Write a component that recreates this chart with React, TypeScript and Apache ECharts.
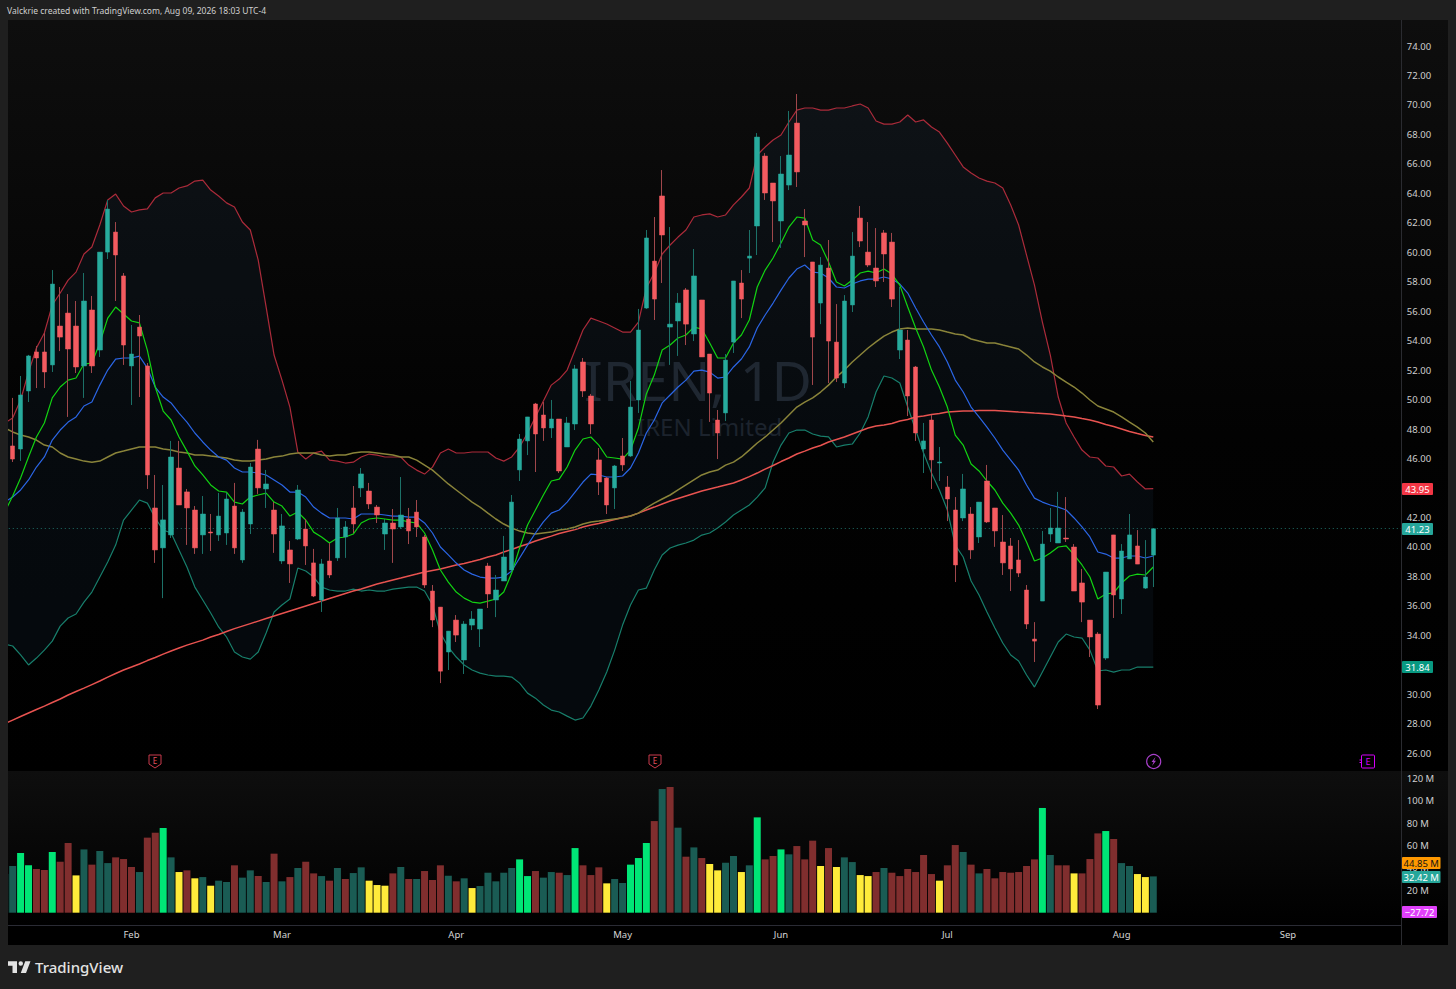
import React, { useEffect, useRef } from "react";
import * as echarts from "echarts";

const tvLogo = "M14 6H2v6h6v9h6V6Zm12 15h-7l6-15h7l-6 15Zm-7-9a3 3 0 1 0 0-6 3 3 0 0 0 0 6Z";
echarts.graphic.registerShape("tvlogo", echarts.graphic.extendPath(tvLogo, {}));

const opens = [
46.85,46.64,50.58,53.23,53.23,52.35,54.99,55.87,54.99,52.28,
56.08,53.36,60.01,61.37,58.39,52.28,54.92,52.28,42.64,39.93,
40.81,45.35,43.73,42.50,40.81,41.01,40.81,40.94,42.77,39.11,
41.55,46.64,43.93,42.50,39.04,39.79,40.53,41.21,38.91,36.39,
39.04,39.25,40.67,42.64,44.00,43.79,42.70,40.87,41.62,41.35,
41.89,42.36,40.67,37.00,35.91,32.86,35.03,32.32,34.69,34.42,
38.70,36.39,37.68,38.43,45.22,47.19,49.70,48.95,48.07,48.68,
46.78,48.34,52.55,50.24,45.90,44.67,44.00,46.17,46.17,49.97,
56.21,59.40,63.82,54.92,55.33,57.44,54.45,56.76,53.09,48.61,
49.09,53.90,57.91,59.60,61.78,66.53,64.70,62.12,64.56,68.77,
62.12,59.34,56.55,58.93,53.90,51.12,56.42,62.32,60.01,58.93,
61.31,60.69,53.36,54.04,52.21,46.64,48.61,45.69,44.06,42.50,
41.96,42.23,40.67,44.47,42.64,40.33,40.06,39.11,37.07,33.74,
36.32,40.87,40.26,40.60,39.99,37.55,35.03,34.08,32.45,40.81,
36.46,39.18,40.06,37.20,39.44];
const closes = [
45.96,50.31,52.96,52.82,51.87,57.84,54.24,53.43,52.21,56.69,
52.28,60.01,62.93,59.81,53.70,53.09,54.31,44.88,39.79,41.83,
46.10,42.84,42.64,39.93,42.23,40.94,42.09,43.25,39.93,42.36,
45.42,44.00,44.27,40.87,41.42,38.84,43.86,40.06,36.66,38.84,
38.09,41.96,41.35,41.55,44.95,42.91,42.16,41.62,41.21,42.16,
41.08,41.35,37.41,35.03,31.56,34.28,34.01,34.76,35.10,35.78,
36.80,37.07,39.31,43.04,47.32,48.82,47.66,48.07,48.68,45.15,
48.41,52.08,50.58,48.34,44.40,42.84,45.49,45.56,49.49,54.72,
60.97,56.82,61.17,55.12,56.55,55.12,58.39,52.89,50.44,47.73,
52.68,58.05,56.82,59.74,67.82,64.02,63.48,65.31,66.60,65.45,
61.85,54.24,59.13,53.97,51.46,56.69,59.74,60.76,59.13,58.05,
59.88,56.82,54.72,50.24,47.73,47.19,45.90,45.76,43.25,38.77,
43.93,39.79,43.04,41.69,41.08,38.91,38.50,38.22,34.76,33.60,
40.19,41.28,41.28,40.53,37.00,36.25,33.88,29.26,38.29,36.73,
39.72,40.81,38.83,37.95,41.23];
const lows = [
45.76,45.83,49.83,50.78,50.78,51.87,53.29,48.82,51.80,50.11,
51.80,52.89,59.54,56.69,52.35,49.63,50.17,43.93,38.91,36.52,
40.60,42.84,40.13,39.52,39.52,39.72,40.40,40.13,39.52,38.91,
40.87,43.59,42.64,39.59,38.84,37.55,40.46,38.77,36.59,35.58,
37.88,39.04,39.25,40.94,43.38,42.57,41.62,39.79,38.91,41.21,
40.19,40.67,37.21,34.55,30.75,31.64,33.54,31.37,34.35,33.20,
35.85,35.23,37.68,38.43,44.47,46.23,45.08,47.19,47.39,45.01,
46.78,47.93,50.17,47.66,43.52,42.23,42.57,45.15,46.10,49.09,
56.15,55.40,57.91,52.35,52.96,53.70,53.97,52.89,48.48,45.96,
48.54,53.16,55.53,58.59,59.81,63.55,60.69,60.29,64.22,64.43,
59.67,50.99,55.12,51.12,51.19,50.78,55.94,60.35,58.99,57.64,
57.98,56.28,52.75,48.88,47.19,45.01,43.93,44.47,41.75,37.61,
41.75,39.18,40.26,41.62,40.00,38.09,37.00,37.95,34.42,32.18,
36.32,40.33,40.26,40.33,37.00,34.89,32.52,28.99,32.32,35.17,
35.44,39.18,38.83,37.14,37.27];
const highs = [
50.11,51.60,53.03,53.64,54.51,58.79,57.64,57.16,56.69,58.59,
57.03,60.01,63.55,62.05,58.59,55.06,55.74,52.48,44.88,44.20,
47.19,47.19,43.93,42.77,43.45,42.23,43.66,43.66,44.34,42.57,
45.69,47.26,45.22,43.04,42.23,40.40,44.20,41.89,39.86,39.18,
40.26,42.64,41.75,44.13,45.35,44.34,42.84,41.89,42.57,44.74,
42.64,43.18,40.81,37.41,35.91,34.28,35.37,34.96,35.64,35.78,
38.91,38.09,40.74,43.52,47.66,48.82,49.77,49.83,49.97,48.68,
48.82,52.35,52.82,50.38,46.71,44.74,45.56,47.39,51.26,56.15,
61.51,62.39,65.58,61.71,57.23,57.57,60.22,56.76,53.09,49.29,
53.09,58.05,58.79,61.51,68.09,66.73,64.70,66.53,69.59,70.74,
62.93,59.34,59.67,60.83,56.48,57.09,61.37,63.14,62.05,61.64,
61.51,61.31,57.64,54.72,52.28,48.41,48.95,46.78,44.81,43.38,
44.95,42.70,43.04,45.56,42.64,42.16,40.60,40.46,37.41,34.89,
41.08,42.64,43.73,43.38,40.19,38.50,35.03,34.21,38.29,40.81,
40.19,42.23,41.14,40.46,41.23];

// Indicator series start one bar earlier than the candles (that bar is cut by the left edge).
const bbUpper = [48.41,
48.75,49.97,51.86,53.50,54.52,56.42,57.23,58.11,58.65,59.88,
60.35,61.85,63.55,63.95,63.14,62.73,62.87,62.94,63.69,64.02,
64.02,64.36,64.50,64.83,64.90,64.22,63.82,63.35,63.07,62.05,
61.51,59.47,56.28,53.02,51.32,49.49,46.43,45.96,46.37,46.50,
45.89,45.82,45.69,45.75,46.10,46.30,46.23,46.10,46.10,46.10,
45.55,45.21,44.94,45.41,46.37,46.64,46.37,46.37,46.44,46.44,
46.44,46.03,45.82,46.10,46.78,47.73,48.82,49.90,50.98,51.39,
52.00,53.36,54.72,55.53,55.33,55.13,54.86,54.58,54.58,55.26,
57.57,58.59,59.88,60.49,61.03,61.51,62.39,62.53,62.60,62.39,
62.53,63.21,63.75,64.36,66.60,67.14,67.62,67.96,68.84,69.65,
69.79,69.79,69.65,69.65,69.79,69.79,69.93,70.06,69.79,68.91,
68.70,68.70,68.84,69.32,68.84,68.98,68.50,68.16,67.41,66.60,
65.79,65.38,65.04,64.83,64.70,64.36,63.21,61.85,59.81,57.77,
55.26,53.02,50.17,48.41,47.46,46.57,46.10,46.03,45.49,45.42,
44.81,44.94,44.40,43.93,43.95];
const bbLower = [33.40,
33.27,32.66,31.98,32.45,32.99,33.60,34.62,35.17,35.44,36.25,
36.93,37.95,38.97,40.12,41.82,42.50,43.18,42.97,41.96,41.14,
40.94,39.78,38.63,37.27,36.39,35.51,34.56,33.88,32.86,32.52,
32.38,32.86,34.15,35.58,36.05,36.46,38.56,38.36,37.95,37.27,
37.07,37.00,37.00,37.13,37.00,37.07,37.00,37.00,37.13,37.20,
37.27,37.27,37.00,36.05,34.15,33.20,32.52,31.98,31.64,31.43,
31.30,31.23,31.23,31.16,30.75,30.07,29.73,29.26,28.92,28.79,
28.51,28.24,28.38,29.19,30.28,31.50,32.99,34.69,36.05,37.07,
37.20,38.43,39.45,39.92,40.12,40.26,40.46,40.80,40.94,41.28,
41.69,42.16,42.50,42.84,43.38,44.00,45.76,46.91,47.73,47.93,
47.93,47.66,47.52,47.46,46.78,46.91,46.98,47.73,48.82,50.51,
51.60,51.46,51.12,49.49,47.93,46.37,45.01,43.86,42.50,40.12,
39.31,37.68,36.73,35.58,34.49,33.47,32.66,32.25,31.30,30.48,
31.50,32.52,33.54,34.08,33.88,33.81,32.99,31.57,31.64,31.50,
31.64,31.64,31.84,31.84,31.84];
const bbBasis = [43.04,
43.38,43.86,44.54,45.42,46.10,47.25,47.93,48.47,48.82,49.56,
49.83,50.98,52.00,52.75,52.82,52.82,52.95,52.14,50.85,50.17,
49.77,49.08,48.47,47.73,47.12,46.57,46.10,45.89,45.35,45.08,
45.08,45.01,44.88,44.54,44.20,43.72,43.72,43.38,42.70,42.29,
41.96,41.96,41.96,41.89,42.23,42.23,42.23,42.16,42.09,42.09,
42.02,42.02,41.62,40.94,39.99,39.45,38.90,38.43,38.15,37.95,
37.88,37.88,37.95,38.36,39.24,40.12,40.94,41.69,42.29,42.50,
43.04,43.72,44.40,44.94,44.88,44.74,44.74,44.81,45.35,46.37,
47.73,48.61,49.77,50.31,50.85,51.32,51.93,52.00,51.86,51.46,
51.53,52.21,52.75,53.57,54.86,55.74,56.55,57.43,58.25,58.86,
59.13,58.65,58.59,58.25,57.64,57.57,57.84,58.05,58.18,58.18,
58.32,58.18,57.84,57.23,56.21,55.26,54.38,53.57,52.55,51.32,
50.51,49.49,48.82,48.13,47.39,46.57,45.89,45.21,44.20,43.31,
43.04,42.84,42.70,42.50,41.96,41.35,40.67,39.65,39.51,39.24,
39.24,39.38,39.38,39.24,39.38];
const emaFast = [42.36,
43.45,44.67,46.10,47.46,48.41,50.11,50.85,51.32,51.46,52.41,
52.48,53.84,55.53,56.28,55.81,55.33,55.20,53.36,50.85,49.22,
48.61,47.46,46.50,45.49,44.88,44.20,43.79,43.72,43.04,42.91,
43.38,43.52,43.65,43.04,42.77,42.09,42.36,41.82,41.00,40.67,
40.26,40.60,40.67,40.87,41.62,41.89,41.96,41.89,41.82,41.82,
41.69,41.62,40.94,39.78,38.43,37.61,36.93,36.52,36.25,36.18,
36.32,36.46,36.93,38.22,39.92,41.48,42.50,43.52,44.47,44.60,
45.42,46.57,47.32,47.46,46.91,46.10,46.03,45.96,46.57,48.07,
50.38,51.66,53.36,53.70,54.18,54.38,54.92,54.79,53.84,52.82,
52.82,53.84,54.38,55.40,57.64,58.79,59.61,60.63,61.71,62.39,
62.32,60.83,60.49,59.34,57.98,57.71,58.11,58.59,58.72,58.59,
58.86,58.52,57.77,56.28,54.86,53.57,52.00,50.85,49.49,47.59,
46.91,45.62,45.15,44.47,43.86,42.97,42.29,41.48,40.33,39.04,
39.24,39.58,39.99,40.06,39.45,38.77,37.95,36.46,36.80,36.87,
37.55,38.02,38.15,38.09,38.63];
const sma50 = [48.07,
47.80,47.59,47.46,47.25,46.91,46.78,46.37,46.10,45.96,45.82,
45.75,45.82,46.10,46.37,46.50,46.64,46.78,46.78,46.78,46.64,
46.57,46.44,46.37,46.23,46.23,46.16,46.10,46.03,45.89,45.82,
45.82,45.89,45.96,46.10,46.16,46.30,46.37,46.37,46.37,46.23,
46.16,46.23,46.23,46.37,46.44,46.44,46.37,46.30,46.23,46.10,
46.10,45.89,45.55,45.21,44.74,44.27,43.86,43.45,43.04,42.70,
42.29,41.89,41.55,41.28,41.07,40.94,40.87,40.94,41.00,41.14,
41.21,41.35,41.55,41.69,41.75,41.82,41.89,41.96,42.09,42.29,
42.64,42.97,43.25,43.52,43.86,44.20,44.54,44.88,45.08,45.21,
45.55,45.75,46.10,46.57,47.05,47.46,47.93,48.41,48.95,49.49,
49.83,50.11,50.51,50.98,51.53,52.00,52.55,53.02,53.50,53.91,
54.31,54.58,54.79,54.86,54.79,54.79,54.79,54.72,54.58,54.45,
54.38,54.11,53.97,53.84,53.84,53.70,53.57,53.43,53.02,52.55,
52.21,51.93,51.53,51.19,50.85,50.44,49.97,49.56,49.36,49.15,
48.82,48.47,48.13,47.73,47.12];
const sma200 = [28.00,
28.24,28.48,28.72,28.96,29.19,29.43,29.67,29.94,30.18,30.41,
30.65,30.89,31.16,31.40,31.64,31.84,32.05,32.28,32.49,32.72,
32.93,33.13,33.33,33.50,33.67,33.88,34.05,34.25,34.45,34.62,
34.79,34.96,35.13,35.30,35.47,35.64,35.81,35.98,36.15,36.32,
36.49,36.66,36.83,37.00,37.14,37.31,37.48,37.61,37.75,37.88,
38.02,38.15,38.29,38.39,38.49,38.63,38.77,38.87,39.00,39.14,
39.31,39.45,39.65,39.82,40.02,40.19,40.40,40.57,40.73,40.90,
41.04,41.17,41.35,41.48,41.58,41.72,41.85,41.99,42.09,42.29,
42.50,42.70,42.91,43.11,43.28,43.45,43.62,43.79,43.93,44.06,
44.20,44.33,44.54,44.77,45.01,45.28,45.52,45.79,46.03,46.30,
46.50,46.71,46.88,47.12,47.29,47.46,47.66,47.86,48.07,48.20,
48.27,48.37,48.54,48.64,48.82,48.88,48.98,49.05,49.15,49.19,
49.22,49.22,49.25,49.25,49.25,49.22,49.19,49.15,49.12,49.08,
49.05,49.02,48.95,48.88,48.82,48.71,48.61,48.47,48.30,48.17,
48.00,47.83,47.69,47.56,47.46];

const volumes = [34.5,
41.7,53.3,42.3,39.0,38.1,54.2,45.5,62.2,33.3,56.5,
42.9,55.1,44.3,49.4,47.9,40.8,36.3,67.0,71.4,75.6,
49.4,36.3,37.8,30.7,31.8,24.1,28.6,27.4,42.3,31.3,
37.8,32.7,27.4,52.7,28.0,31.8,39.9,45.5,35.1,32.7,
28.6,39.9,30.1,35.4,40.5,28.6,24.7,24.1,35.1,40.8,
30.1,30.1,37.2,29.2,42.3,33.0,28.0,30.7,22.0,23.8,
35.7,28.0,35.7,39.9,47.6,32.7,37.2,31.3,36.3,35.7,
33.6,57.7,42.3,33.6,40.5,26.2,30.1,26.5,42.9,48.8,
62.2,81.8,110.4,112.2,75.9,50.0,58.3,48.8,43.5,37.8,
44.6,50.6,36.3,42.3,85.1,47.6,50.6,56.5,52.1,59.5,
47.6,64.3,41.7,57.7,40.8,49.4,45.2,33.6,32.7,36.3,
39.9,35.7,32.7,39.0,36.3,51.5,34.5,28.6,42.3,60.4,
54.2,42.9,35.1,39.0,30.7,36.3,35.7,36.3,41.7,47.6,
93.5,51.5,42.3,42.3,35.1,35.1,47.9,70.8,72.9,65.8,
44.3,41.7,34.5,31.8,32.42];
// t = dark teal, r = dark red, g = bright green, y = yellow
const volumeKindRows = [
  "t",
  "tggrrgrryt","rttrrrtrrg","tyrytyttrt","trtrtrtrrt","rtrttyyyrt",
  "rtrrrtrtyt","ttttggrttr","tgrrryttgg","grtrtrtryy","ttytgrrgtr",
  "rryryttyyr","trrrrrryrr","trtrrrrrrr","gtrryrrrgr","ttyyt",
];

const monthTicks: [number, string][] = [
  [16, "Feb"], [35, "Mar"], [57, "Apr"], [78, "May"], [98, "Jun"], [119, "Jul"], [141, "Aug"], [162, "Sep"]
];

const CATEGORY_COUNT = 177;
const timeLabels: string[] = Array.from({ length: CATEGORY_COUNT }, () => "");
monthTicks.forEach(([k, m]) => { timeLabels[k] = m; });

const TEAL = "#27ab9d";
const RED = "#f45b60";
const FONT = '"Noto Sans"';

export default function App() {
  const ref = useRef<HTMLDivElement>(null);
  useEffect(() => {
    document.body.style.margin = "0";
    document.body.style.background = "#1f1f1f";
    const chart = echarts.init(ref.current!, undefined, { renderer: "svg" });
    const kinds = volumeKindRows.join("");
    const kindColor: Record<string, string> = { t: "#1a5c54", r: "#802e2e", g: "#00e676", y: "#ffeb3b" };

    const wicks: any[] = [["-", "-", "-", "-"]];
    const bodies: any[] = [["-", "-", "-", "-"]];
    opens.forEach((o, i) => {
      const c = closes[i];
      wicks.push([o, c, lows[i], highs[i]]);
      bodies.push([o, c, Math.min(o, c), Math.max(o, c)]);
    });
    const bandGap = bbUpper.map((u, i) => +(u - bbLower[i]).toFixed(2));
    const line = (name: string, data: number[], color: string, width: number) => ({
      name, type: "line", data, xAxisIndex: 0, yAxisIndex: 0, showSymbol: false, symbol: "none", silent: true, z: 3,
      lineStyle: { color, width },
    });

    const tag = (y: number, w: number, fill: string, text: string, textFill = "#ffffff") => [
      { type: "rect", z: 50, shape: { x: 1402, y, width: w, height: 12, r: 1 }, style: { fill } },
      { type: "text", z: 51, x: 1402 + w / 2, y: y + 6, style: { text, fill: textFill, font: `9.5px ${FONT}`, align: "center", verticalAlign: "middle", textAlign: "center", textVerticalAlign: "middle" } },
    ];
    const earnings = (cx: number) => [
      { type: "polygon", z: 20, shape: { points: [[cx - 6, 755], [cx + 6, 755], [cx + 6, 764], [cx, 768], [cx - 6, 764]] }, style: { fill: "none", stroke: "#c93a4c", lineWidth: 1 } },
      { type: "text", z: 21, x: cx, y: 760.5, style: { text: "E", fill: "#e0505f", font: `8px ${FONT}`, align: "center", verticalAlign: "middle", textAlign: "center", textVerticalAlign: "middle" } },
    ];

    chart.setOption({
      animation: false,
      backgroundColor: "#1f1f1f",
      tooltip: { show: false },
      grid: [
        { left: 0.79, top: 16.54, width: 1402, height: 766 },
        { left: 0.79, top: 771, width: 1402, height: 141.7 },
      ],
      xAxis: [
        { type: "category", gridIndex: 0, data: timeLabels, boundaryGap: true, axisLine: { show: false }, axisTick: { show: false }, axisLabel: { show: false }, splitLine: { show: false } },
        { type: "category", gridIndex: 1, data: timeLabels, boundaryGap: true, axisLine: { show: false }, axisTick: { show: false }, splitLine: { show: false },
          axisLabel: { show: true, interval: 0, color: "#d6d6d6", fontFamily: FONT, fontSize: 9.5, margin: 17, hideOverlap: false } },
      ],
      yAxis: [
        { type: "value", gridIndex: 0, position: "right", min: 24, max: 76, interval: 2, axisLine: { show: false }, axisTick: { show: false }, splitLine: { show: false },
          axisLabel: { color: "#cfcfcf", fontFamily: FONT, fontSize: 9.5, margin: 4, align: "left",
            formatter: (v: number) => (v === 24 || v === 76 ? "" : v.toFixed(2)) } },
        { type: "value", gridIndex: 1, position: "right", min: 0, max: 126.5, interval: 20, axisLine: { show: false }, axisTick: { show: false }, splitLine: { show: false },
          axisLabel: { color: "#cfcfcf", fontFamily: FONT, fontSize: 9.5, margin: 4, align: "left",
            formatter: (v: number) => (v > 0 && v % 20 === 0 ? `${v} M` : "") } },
      ],
      series: [
        { name: "bbBase", type: "line", stack: "bb", data: bbLower, xAxisIndex: 0, yAxisIndex: 0, symbol: "none", lineStyle: { width: 0, opacity: 0 }, silent: true, z: 1 },
        { name: "bbFill", type: "line", stack: "bb", data: bandGap, xAxisIndex: 0, yAxisIndex: 0, symbol: "none", lineStyle: { width: 0, opacity: 0 }, silent: true, z: 1, areaStyle: { color: "rgba(30,55,80,0.16)", opacity: 1 } },
        line("BB upper", bbUpper, "#ab2b3a", 1.2),
        line("BB lower", bbLower, "#187f6c", 1.2),
        line("SMA 200", sma200, "#e85350", 1.5),
        line("SMA 50", sma50, "#8a843a", 1.5),
        line("BB basis", bbBasis, "#2b66e6", 1.2),
        line("EMA fast", emaFast, "#12d312", 1.2),
        {
          name: "wicks", type: "candlestick", data: wicks, xAxisIndex: 0, yAxisIndex: 0, barWidth: 1, z: 4, silent: true,
          itemStyle: { color: "#1c7168", color0: "#a0474b", borderColor: "#1c7168", borderColor0: "#a0474b", borderWidth: 1 },
          markLine: {
            silent: true, symbol: "none", label: { show: false }, animation: false,
            lineStyle: { color: "#1f6d66", type: [1, 3], width: 1 },
            data: [{ yAxis: closes[closes.length - 1] }],
          },
        },
        {
          name: "bodies", type: "candlestick", data: bodies, xAxisIndex: 0, yAxisIndex: 0, barWidth: 5, z: 5, silent: true,
          itemStyle: { color: TEAL, color0: RED, borderColor: TEAL, borderColor0: RED, borderWidth: 0.5 },
        },
        {
          name: "Volume", type: "bar", data: volumes.map((v, i) => ({ value: v, itemStyle: { color: kindColor[kinds[i]] || "#1a5c54" } })),
          xAxisIndex: 1, yAxisIndex: 1, barWidth: 7, silent: true, z: 3,
        },
      ],
      graphic: {
        elements: [
          { type: "rect", z: -10, shape: { x: 8, y: 20, width: 1440, height: 751 }, style: { fill: new echarts.graphic.LinearGradient(0, 0, 0, 1, [{ offset: 0, color: "#0e0e0e" }, { offset: 0.55, color: "#020202" }, { offset: 1, color: "#000000" }]) } },
          { type: "rect", z: -10, shape: { x: 8, y: 771, width: 1440, height: 154 }, style: { fill: new echarts.graphic.LinearGradient(0, 0, 0, 1, [{ offset: 0, color: "#0e0e0e" }, { offset: 1, color: "#000000" }]) } },
          { type: "rect", z: -10, shape: { x: 8, y: 925, width: 1440, height: 20 }, style: { fill: "#000000" } },
          { type: "text", z: -5, x: 584, y: 379, style: { text: "IREN, 1D", fill: "#20242c", font: `55.5px ${FONT}`, align: "left", verticalAlign: "middle", textAlign: "left", textVerticalAlign: "middle" } },
          { type: "text", z: -5, x: 637, y: 426, style: { text: "IREN Limited", fill: "#1c2027", font: `24px ${FONT}`, align: "left", verticalAlign: "middle", textAlign: "left", textVerticalAlign: "middle" } },
          // frame
          { type: "rect", z: 30, shape: { x: 0, y: 0, width: 8, height: 989 }, style: { fill: "#1f1f1f" } },
          { type: "rect", z: 30, shape: { x: 0, y: 0, width: 1456, height: 20 }, style: { fill: "#1f1f1f" } },
          { type: "rect", z: 30, shape: { x: 0, y: 945, width: 1456, height: 44 }, style: { fill: "#1f1f1f" } },
          { type: "rect", z: 30, shape: { x: 1448, y: 0, width: 8, height: 989 }, style: { fill: "#1f1f1f" } },
          { type: "line", z: 31, shape: { x1: 1401.5, y1: 20, x2: 1401.5, y2: 945 }, style: { stroke: "#2a2b30", lineWidth: 1 } },
          { type: "line", z: 31, shape: { x1: 8, y1: 925.5, x2: 1401, y2: 925.5 }, style: { stroke: "#2a2b34", lineWidth: 1 } },
          { type: "text", z: 32, x: 7, y: 10, style: { text: "Valckrie created with TradingView.com, Aug 09, 2026 18:03 UTC-4", fill: "#cfcfcf", font: `8.5px ${FONT}`, align: "left", verticalAlign: "middle", textAlign: "left", textVerticalAlign: "middle" } },
          { type: "tvlogo", z: 32, x: 6.5, y: 956.5, scaleX: 0.75, scaleY: 0.78, style: { fill: "#e3e3e3" } },
          { type: "text", z: 32, x: 35, y: 967, style: { text: "TradingView", fill: "#e3e3e3", font: `500 15px ${FONT}`, align: "left", verticalAlign: "middle", textAlign: "left", textVerticalAlign: "middle" } },
          ...earnings(155),
          ...earnings(655),
          { type: "circle", z: 20, shape: { cx: 1153.7, cy: 761.5, r: 7 }, style: { fill: "none", stroke: "#a63fc8", lineWidth: 1.2 } },
          { type: "polygon", z: 21, shape: { points: [[1155.5, 757], [1151.5, 762], [1153.5, 762], [1152, 766], [1156, 760.8], [1154, 760.8]] }, style: { fill: "#a63fc8" } },
          { type: "rect", z: 20, shape: { x: 1361.5, y: 755, width: 13, height: 13, r: 1 }, style: { fill: "none", stroke: "#d500f9", lineWidth: 1 } },
          { type: "line", z: 20, shape: { x1: 1359.5, y1: 760, x2: 1362, y2: 760 }, style: { stroke: "#d500f9", lineWidth: 1 } },
          { type: "line", z: 20, shape: { x1: 1359.5, y1: 762.5, x2: 1362, y2: 762.5 }, style: { stroke: "#d500f9", lineWidth: 1 } },
          { type: "text", z: 21, x: 1368, y: 761.5, style: { text: "E", fill: "#d500f9", font: `9px ${FONT}`, align: "center", verticalAlign: "middle", textAlign: "center", textVerticalAlign: "middle" } },
          ...tag(483, 31, "#f23645", "43.95"),
          ...tag(523, 31, "#26a69a", "41.23"),
          ...tag(661, 31, "#089981", "31.84"),
          ...tag(857, 38.5, "#ff9800", "44.85 M", "#131313"),
          ...tag(871, 38.5, "#26a69a", "32.42 M"),
          ...tag(906, 35, "#e040fb", "\u221227.72"),
        ],
      },
    });
    return () => chart.dispose();
  }, []);
  return <div ref={ref} style={{ position: "fixed", left: 0, top: 0, width: 1456, height: 989 }} />;
}
